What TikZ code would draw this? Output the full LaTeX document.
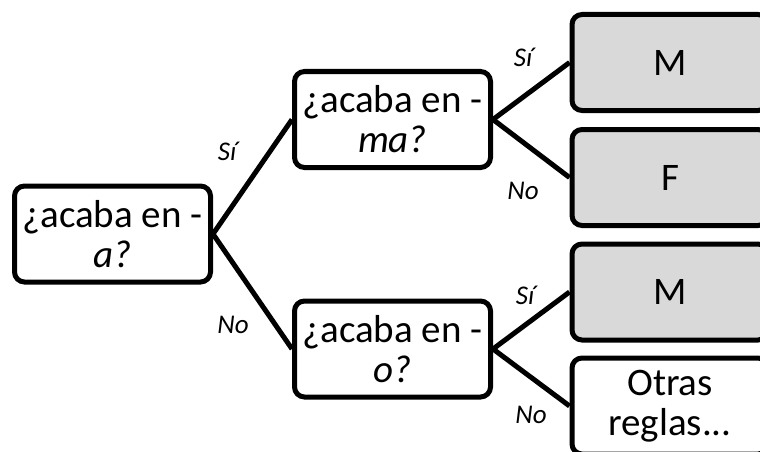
\documentclass[tikz,border=0pt]{standalone}
\usepackage{fontspec}
\setmainfont{Carlito}
\definecolor{leafgray}{HTML}{D9D9D9}
\begin{document}
\begin{tikzpicture}[x=1pt,y=-1pt,
  box/.style={draw=black, line width=5pt, rounded corners=10pt, fill=white,
    minimum width=196pt, minimum height=96pt, inner sep=0pt, align=center,
    font=\fontsize{39}{40}\selectfont},
  leaf/.style={box, fill=leafgray},
  conn/.style={line width=5pt},
  lbl/.style={font=\fontsize{27}{29}\selectfont\itshape}]
\useasboundingbox (0,0) rectangle (760,452);
\node[box] (root) at (112.5,234) {¿acaba en -\\\textit{a?}};
\node[box] (ma) at (392.5,119.5) {¿acaba en -\\\textit{ma?}};
\node[box] (o) at (392.5,349) {¿acaba en -\\\textit{o?}};
\node[leaf] (m1) at (670,62.5) {M};
\node[leaf] (f) at (670,177.5) {F};
\node[leaf] (m2) at (670,292) {M};
\node[box] (otras) at (670,406) {Otras\\reglas...};
\draw[conn] (root.east) -- (ma.west);
\draw[conn] (root.east) -- (o.west);
\draw[conn] (ma.east) -- (m1.west);
\draw[conn] (ma.east) -- (f.west);
\draw[conn] (o.east) -- (m2.west);
\draw[conn] (o.east) -- (otras.west);
\node[lbl] (s1) at (227,151) {Sí};
\node[lbl] (n1) at (233,325) {No};
\node[lbl] (s2) at (523,57) {Sí};
\node[lbl] (n2) at (523,191) {No};
\node[lbl] (s3) at (525,295) {Sí};
\node[lbl] (n3) at (531,415) {No};
\end{tikzpicture}
\end{document}
